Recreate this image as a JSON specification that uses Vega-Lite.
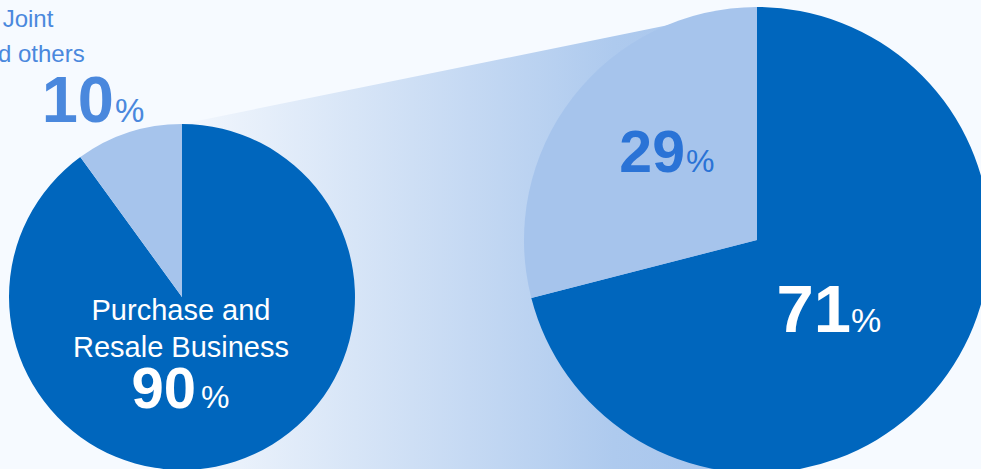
{
  "$schema": "https://vega.github.io/schema/vega-lite/v6.json",
  "width": 981,
  "height": 469,
  "autosize": "none",
  "padding": 0,
  "background": "#f6faff",
  "config": {"view": {"stroke": null}, "text": {"font": "Liberation Sans"}},
  "datasets": {
    "slices": [
      {"pie": "Total", "segment": "Purchase and Resale Business", "share": 90, "rank": 1},
      {"pie": "Total", "segment": "Joint and others", "share": 10, "rank": 2},
      {"pie": "Breakdown", "segment": "Major", "share": 71, "rank": 1},
      {"pie": "Breakdown", "segment": "Minor", "share": 29, "rank": 2}
    ],
    "pies": [{"pie": "Total"}, {"pie": "Breakdown"}]
  },
  "layer": [
    {
      "data": {"name": "pies"},
      "mark": {
        "type": "area",
        "orient": "vertical",
        "fill": {
          "gradient": "linear", "x1": 0, "x2": 1, "y1": 0, "y2": 0,
          "stops": [
            {"offset": 0, "color": "#f6faff"},
            {"offset": 0.05, "color": "#eef4fc"},
            {"offset": 0.75, "color": "#aecaee"},
            {"offset": 1, "color": "#a6c4ec"}
          ]
        }
      },
      "encoding": {
        "x": {"field": "pie", "type": "nominal", "scale": {"type": "point", "domain": ["Total", "Breakdown"], "range": [182, 757], "padding": 0}, "axis": null},
        "y": {"field": "pie", "type": "nominal", "scale": {"type": "point", "domain": ["Total", "Breakdown"], "range": [124, 7], "padding": 0}, "axis": null},
        "y2": {"value": 475}
      }
    },
    {
      "data": {"name": "slices"},
      "transform": [{"filter": "datum.pie == 'Total'"}],
      "mark": {"type": "arc", "outerRadius": 173},
      "encoding": {
        "x": {"field": "pie", "type": "nominal", "scale": {"type": "point", "domain": ["Total", "Breakdown"], "range": [182, 757], "padding": 0}, "axis": null},
        "y": {"field": "pie", "type": "nominal", "scale": {"type": "point", "domain": ["Total", "Breakdown"], "range": [297, 240], "padding": 0}, "axis": null},
        "theta": {"field": "share", "type": "quantitative", "stack": true},
        "order": {"field": "rank"},
        "color": {"field": "rank", "type": "nominal", "scale": {"domain": [1, 2], "range": ["#0066bd", "#a6c4ec"]}, "legend": null}
      }
    },
    {
      "data": {"name": "slices"},
      "transform": [{"filter": "datum.pie == 'Breakdown'"}],
      "mark": {"type": "arc", "outerRadius": 233},
      "encoding": {
        "x": {"field": "pie", "type": "nominal", "scale": {"type": "point", "domain": ["Total", "Breakdown"], "range": [182, 757], "padding": 0}, "axis": null},
        "y": {"field": "pie", "type": "nominal", "scale": {"type": "point", "domain": ["Total", "Breakdown"], "range": [297, 240], "padding": 0}, "axis": null},
        "theta": {"field": "share", "type": "quantitative", "stack": true},
        "order": {"field": "rank"},
        "color": {"field": "rank", "type": "nominal", "scale": {"domain": [1, 2], "range": ["#0066bd", "#a6c4ec"]}, "legend": null}
      }
    },
    {
      "data": {"name": "slices"},
      "transform": [{"filter": "datum.share == 90"}],
      "mark": {"type": "text", "align": "center", "baseline": "alphabetic", "dx": -1, "dy": 23, "fontSize": 29, "color": "white", "lineBreak": "\n", "lineHeight": 37},
      "encoding": {
        "x": {"field": "pie", "type": "nominal", "scale": {"type": "point", "domain": ["Total", "Breakdown"], "range": [182, 757], "padding": 0}, "axis": null},
        "y": {"field": "pie", "type": "nominal", "scale": {"type": "point", "domain": ["Total", "Breakdown"], "range": [297, 240], "padding": 0}, "axis": null},
        "text": {"value": "Purchase and\nResale Business"}
      }
    },
    {
      "data": {"name": "slices"},
      "transform": [{"filter": "datum.share == 90"}],
      "mark": {"type": "text", "align": "right", "baseline": "alphabetic", "dx": 14, "dy": 111, "fontSize": 58, "fontWeight": "bold", "color": "white"},
      "encoding": {
        "x": {"field": "pie", "type": "nominal", "scale": {"type": "point", "domain": ["Total", "Breakdown"], "range": [182, 757], "padding": 0}, "axis": null},
        "y": {"field": "pie", "type": "nominal", "scale": {"type": "point", "domain": ["Total", "Breakdown"], "range": [297, 240], "padding": 0}, "axis": null},
        "text": {"field": "share"}
      }
    },
    {
      "data": {"name": "slices"},
      "transform": [{"filter": "datum.share == 90"}],
      "mark": {"type": "text", "align": "left", "baseline": "alphabetic", "dx": 19, "dy": 111, "fontSize": 32, "color": "white"},
      "encoding": {
        "x": {"field": "pie", "type": "nominal", "scale": {"type": "point", "domain": ["Total", "Breakdown"], "range": [182, 757], "padding": 0}, "axis": null},
        "y": {"field": "pie", "type": "nominal", "scale": {"type": "point", "domain": ["Total", "Breakdown"], "range": [297, 240], "padding": 0}, "axis": null},
        "text": {"value": "%"}
      }
    },
    {
      "data": {"name": "slices"},
      "transform": [{"filter": "datum.share == 10"}],
      "mark": {"type": "text", "align": "center", "baseline": "alphabetic", "dx": -154, "dy": -270, "fontSize": 24, "color": "#4a88dd", "lineBreak": "\n", "lineHeight": 35},
      "encoding": {
        "x": {"field": "pie", "type": "nominal", "scale": {"type": "point", "domain": ["Total", "Breakdown"], "range": [182, 757], "padding": 0}, "axis": null},
        "y": {"field": "pie", "type": "nominal", "scale": {"type": "point", "domain": ["Total", "Breakdown"], "range": [297, 240], "padding": 0}, "axis": null},
        "text": {"value": "Joint\nand others"}
      }
    },
    {
      "data": {"name": "slices"},
      "transform": [{"filter": "datum.share == 10"}],
      "mark": {"type": "text", "align": "right", "baseline": "alphabetic", "dx": -68, "dy": -175, "fontSize": 65, "fontWeight": "bold", "color": "#4a88dd"},
      "encoding": {
        "x": {"field": "pie", "type": "nominal", "scale": {"type": "point", "domain": ["Total", "Breakdown"], "range": [182, 757], "padding": 0}, "axis": null},
        "y": {"field": "pie", "type": "nominal", "scale": {"type": "point", "domain": ["Total", "Breakdown"], "range": [297, 240], "padding": 0}, "axis": null},
        "text": {"field": "share"}
      }
    },
    {
      "data": {"name": "slices"},
      "transform": [{"filter": "datum.share == 10"}],
      "mark": {"type": "text", "align": "left", "baseline": "alphabetic", "dx": -67, "dy": -175, "fontSize": 33, "color": "#4a88dd"},
      "encoding": {
        "x": {"field": "pie", "type": "nominal", "scale": {"type": "point", "domain": ["Total", "Breakdown"], "range": [182, 757], "padding": 0}, "axis": null},
        "y": {"field": "pie", "type": "nominal", "scale": {"type": "point", "domain": ["Total", "Breakdown"], "range": [297, 240], "padding": 0}, "axis": null},
        "text": {"value": "%"}
      }
    },
    {
      "data": {"name": "slices"},
      "transform": [{"filter": "datum.share == 29"}],
      "mark": {"type": "text", "align": "right", "baseline": "alphabetic", "dx": -72, "dy": -68, "fontSize": 59, "fontWeight": "bold", "color": "#2a73d6"},
      "encoding": {
        "x": {"field": "pie", "type": "nominal", "scale": {"type": "point", "domain": ["Total", "Breakdown"], "range": [182, 757], "padding": 0}, "axis": null},
        "y": {"field": "pie", "type": "nominal", "scale": {"type": "point", "domain": ["Total", "Breakdown"], "range": [297, 240], "padding": 0}, "axis": null},
        "text": {"field": "share"}
      }
    },
    {
      "data": {"name": "slices"},
      "transform": [{"filter": "datum.share == 29"}],
      "mark": {"type": "text", "align": "left", "baseline": "alphabetic", "dx": -71, "dy": -68, "fontSize": 32, "color": "#2a73d6"},
      "encoding": {
        "x": {"field": "pie", "type": "nominal", "scale": {"type": "point", "domain": ["Total", "Breakdown"], "range": [182, 757], "padding": 0}, "axis": null},
        "y": {"field": "pie", "type": "nominal", "scale": {"type": "point", "domain": ["Total", "Breakdown"], "range": [297, 240], "padding": 0}, "axis": null},
        "text": {"value": "%"}
      }
    },
    {
      "data": {"name": "slices"},
      "transform": [{"filter": "datum.share == 71"}],
      "mark": {"type": "text", "align": "right", "baseline": "alphabetic", "dx": 94, "dy": 92, "fontSize": 67, "fontWeight": "bold", "color": "white"},
      "encoding": {
        "x": {"field": "pie", "type": "nominal", "scale": {"type": "point", "domain": ["Total", "Breakdown"], "range": [182, 757], "padding": 0}, "axis": null},
        "y": {"field": "pie", "type": "nominal", "scale": {"type": "point", "domain": ["Total", "Breakdown"], "range": [297, 240], "padding": 0}, "axis": null},
        "text": {"field": "share"}
      }
    },
    {
      "data": {"name": "slices"},
      "transform": [{"filter": "datum.share == 71"}],
      "mark": {"type": "text", "align": "left", "baseline": "alphabetic", "dx": 94, "dy": 92, "fontSize": 34, "color": "white"},
      "encoding": {
        "x": {"field": "pie", "type": "nominal", "scale": {"type": "point", "domain": ["Total", "Breakdown"], "range": [182, 757], "padding": 0}, "axis": null},
        "y": {"field": "pie", "type": "nominal", "scale": {"type": "point", "domain": ["Total", "Breakdown"], "range": [297, 240], "padding": 0}, "axis": null},
        "text": {"value": "%"}
      }
    }
  ],
  "resolve": {"scale": {"y": "independent", "color": "independent", "theta": "independent"}}
}
